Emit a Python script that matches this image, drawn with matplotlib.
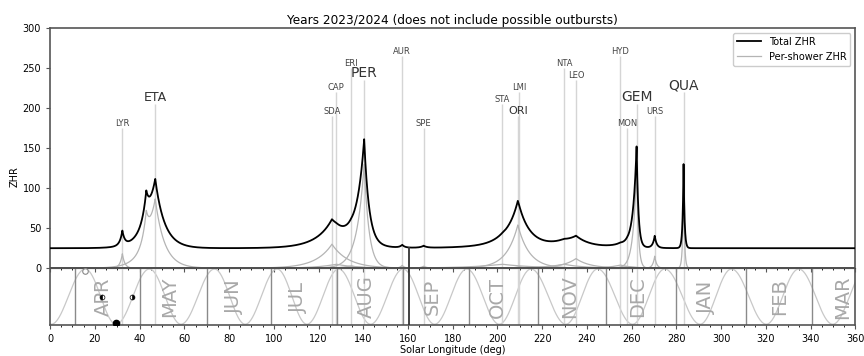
import numpy as np
import matplotlib
matplotlib.use('Agg')
import matplotlib.pyplot as plt

# showers: label, peak solar longitude, peak ZHR, slope before / after peak (10^-B|dL|)
names = ['LYR', 'ETA', 'SDA', 'CAP', 'ERI', 'PER', 'AUR', 'SPE', 'STA', 'ORI', 'LMI',
         'NTA', 'LEO', 'HYD', 'MON', 'GEM', 'URS', 'QUA']
peak_lon = [32.3, 47.0, 126.0, 127.9, 134.6, 140.4, 157.4, 167.0, 202.0, 209.1, 209.8,
            229.7, 235.1, 254.9, 257.9, 262.2, 270.3, 283.2]
peak_zhr = [18, 83, 30, 5, 3, 130, 3.5, 2.5, 5, 54, 2,
            5, 12, 4, 2, 125, 15, 105]
b_before = [0.40, 0.09, 0.06, 0.05, 0.10, 0.13, 0.40, 0.30, 0.03, 0.085, 0.20,
            0.05, 0.07, 0.08, 0.10, 0.27, 0.50, 1.00]
b_after = [0.40, 0.10, 0.06, 0.05, 0.10, 0.20, 0.40, 0.30, 0.03, 0.085, 0.20,
           0.05, 0.07, 0.08, 0.10, 0.54, 0.50, 1.00]
label_zhr = [175, 205, 190, 220, 250, 235, 265, 175, 205, 190, 220,
             250, 235, 265, 175, 205, 190, 220]
label_size = [6, 9, 6, 6, 6, 10, 6, 6, 6, 8, 6,
              6, 6, 6, 6, 10, 6, 10]
# second ETA component (early sub-peak)
eta2_lon, eta2_zhr, eta2_b = 43.0, 36, 0.25
sporadic = 25

# months (lower strip)
month_names = ['APR', 'MAY', 'JUN', 'JUL', 'AUG', 'SEP', 'OCT', 'NOV', 'DEC', 'JAN', 'FEB', 'MAR']
month_start = [11.0, 40.4, 70.2, 98.9, 128.1, 157.6, 187.2, 217.9, 248.3, 279.6, 311.3, 340.4]
month_label = [24.0, 53.6, 82.3, 111.0, 141.3, 171.0, 200.1, 232.3, 262.7, 293.3, 326.0, 354.4]

# moon phases (solar longitude)
full_moon = [-13.8, 15.7, 44.4, 73.5, 101.5, 129.0, 157.8, 186.3, 215.0, 244.8, 274.8, 304.6, 334.7, 364.8]
new_moon = [0.5, 29.5, 58.5, 87.2, 114.8, 143.3, 171.9, 200.8, 230.6, 260.4, 290.6, 320.2, 349.9]
quarter_lon = [23.1, 36.8]

now_lon = 160.3
y_bottom = -71
moon_top, moon_bot = -1, -70

lon = np.linspace(0, 360, 7201)

def profile(l0, z, bb, ba):
    d = lon - l0
    b = np.where(d < 0, bb, ba)
    return z * 10 ** (-b * np.abs(d))

curves = [profile(peak_lon[i], peak_zhr[i], b_before[i], b_after[i]) for i in range(len(names))]
curves[names.index('ETA')] += profile(eta2_lon, eta2_zhr, eta2_b, eta2_b)
total = sporadic + np.sum(curves, axis=0)

# moon illumination curve between extrema
ext = sorted([(x, 1) for x in full_moon] + [(x, 0) for x in new_moon])
mx, my = [], []
for (x0, v0), (x1, v1) in zip(ext[:-1], ext[1:]):
    t = np.linspace(0, 1, 40)
    ill = v0 + (v1 - v0) * (1 - np.cos(np.pi * t)) / 2
    mx.extend(x0 + (x1 - x0) * t)
    my.extend(moon_bot + (moon_top - moon_bot) * ill)

fig, ax = plt.subplots(figsize=(8.64, 3.56), dpi=100)
fig.subplots_adjust(left=0.058, right=0.99, bottom=0.087, top=0.921)

ax.plot(mx, my, color='#c8c8c8', lw=0.9, zorder=1)
ax.vlines(month_start, y_bottom, 0, color='#8a8a8a', lw=1.0, zorder=2)
for m, x in zip(month_names, month_label):
    ax.text(x, -36, m, rotation=90, ha='center', va='center', fontsize=14,
            color='#a8a8a8', zorder=2)

for i, n in enumerate(names):
    ax.vlines(peak_lon[i], y_bottom, label_zhr[i], color='#d5d5d5', lw=1.0, zorder=1)
    ax.text(peak_lon[i], label_zhr[i], n, ha='center', va='bottom',
            fontsize=label_size[i], color='#333333' if label_size[i] > 7 else '#444444')

for c in curves:
    ax.plot(lon, c, color='#b4b4b4', lw=0.9, zorder=3)
ax.axhline(0, color='#333333', lw=1.1, zorder=4)
ax.plot(lon, total, color='black', lw=1.3, zorder=5, label='Total ZHR')
ax.plot([], [], color='#b4b4b4', lw=0.9, label='Per-shower ZHR')

# now marker
ax.vlines(now_lon, y_bottom, np.interp(now_lon, lon, total), color='#333333', lw=1.3, zorder=5)

# moon phase markers
ax.plot(full_moon[1], moon_top - 2, 'o', ms=4, mfc='white', mec='#888888', mew=0.8, zorder=6)
ax.plot(new_moon[1], moon_bot + 1, 'o', ms=4.5, color='black', zorder=6)
ax.plot(quarter_lon[0], (moon_top + moon_bot) / 2, 'o', ms=3.5, color='black',
        fillstyle='left', mfc='black', mfcalt='white', mew=0.5, zorder=6)
ax.plot(quarter_lon[1], (moon_top + moon_bot) / 2, 'o', ms=3.5, color='black',
        fillstyle='right', mfc='black', mfcalt='white', mew=0.5, zorder=6)

ax.set_xlim(0, 360)
ax.set_ylim(y_bottom, 300)
ax.set_xticks(np.arange(0, 361, 20))
ax.set_xticks(np.arange(0, 361, 5), minor=True)
ax.set_yticks(np.arange(0, 301, 50))
ax.tick_params(labelsize=7, length=3, color='#555555')
ax.tick_params(which='minor', length=1.5)

sec = ax.secondary_xaxis(-y_bottom / (300 - y_bottom))
sec.set_xticks(np.arange(0, 361, 20))
sec.set_xticks(np.arange(0, 361, 5), minor=True)
sec.tick_params(direction='out', labelbottom=False, length=3, color='#555555')
sec.tick_params(which='minor', direction='out', length=1.5)
sec.set_xticklabels([])

for s in ax.spines.values():
    s.set_color('#555555')
    s.set_linewidth(1.2)

ax.set_xlabel('Solar Longitude (deg)', fontsize=7, labelpad=1)
ax.set_ylabel('ZHR', fontsize=7, labelpad=2)
ax.set_title('Years 2023/2024 (does not include possible outbursts)', fontsize=8.7, pad=3)
ax.legend(loc='upper right', fontsize=7, handlelength=2.5, framealpha=1, edgecolor='#cccccc')

fig.savefig('out.png', dpi=100)
